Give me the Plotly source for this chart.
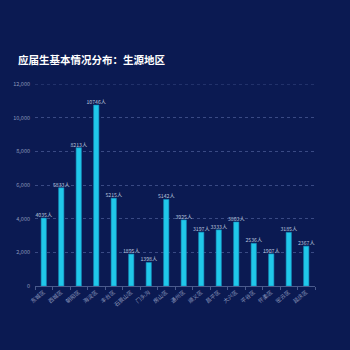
import plotly.graph_objects as go

categories = ["东城区", "西城区", "朝阳区", "海淀区", "丰台区", "石景山区", "门头沟", "房山区",
              "通州区", "顺义区", "昌平区", "大兴区", "平谷区", "怀柔区", "密云区", "延庆区"]
values = [4035, 5833, 8213, 10746, 5215, 1895, 1398, 5142, 3925, 3197, 3333, 3803, 2536, 1907, 3185, 2367]
y_ticks = [0, 2000, 4000, 6000, 8000, 10000, 12000]
title_text = "应届生基本情况分布：生源地区"

BG = "#0b1a52"
FONT = "Noto Sans CJK SC"
GRID = "#3a4a84"

fig = go.Figure()
fig.add_trace(go.Bar(
    x=categories,
    y=values,
    text=[f"{v}人" for v in values],
    textposition="outside",
    constraintext="none",
    textfont=dict(size=5.2, color="#b8c2dc", family=FONT),
    cliponaxis=False,
    marker=dict(color="#20c8ea", line=dict(color="#1690c0", width=0.6)),
    width=0.3,
))

fig.add_shape(type="line", xref="paper", yref="y", x0=0, x1=1, y0=y_ticks[-1], y1=y_ticks[-1],
              line=dict(color=GRID, width=1, dash="dot"), layer="below")

fig.update_layout(
    width=350, height=350,
    paper_bgcolor=BG, plot_bgcolor=BG,
    margin=dict(l=35, r=35, t=84, b=64),
    showlegend=False,
    title=dict(text=f"<b>{title_text}</b>", x=18/350, xanchor="left", y=1-60/350, yanchor="middle",
               font=dict(size=10.5, color="#ffffff", family=FONT)),
    font=dict(family=FONT),
)
fig.update_xaxes(
    showgrid=False, showline=True, linecolor="#4a5a8c", linewidth=1,
    ticks="outside", tickson="boundaries", ticklen=3, tickcolor="#4a5a8c",
    tickangle=-40, tickfont=dict(size=5.5, color="#8c98bc", family=FONT),
)
fig.update_yaxes(
    range=[0, 12000], tickvals=y_ticks, tickformat=",",
    showgrid=True, gridcolor=GRID, griddash="dot", gridwidth=1,
    zeroline=False, showline=False,
    tickfont=dict(size=5.5, color="#8c98bc", family=FONT), ticklabelstandoff=4,
)

fig.write_html("out.html")
